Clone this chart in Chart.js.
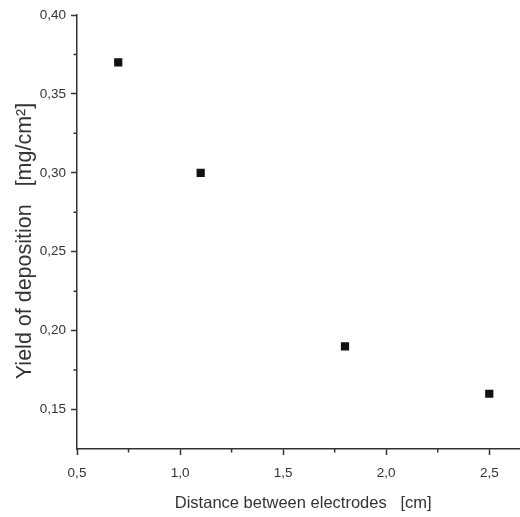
<!DOCTYPE html>
<html>
<head>
<meta charset="utf-8">
<script src="https://cdn.jsdelivr.net/npm/chart.js@4"></script>
<style>
  body { margin: 0; background: #fff; overflow: hidden; }
  /* a bit wider than the window so the x axis runs to the right edge */
  #wrap { width: 526px; height: 517px; }
</style>
</head>
<body>
<div id="wrap"><canvas id="myChart"></canvas></div>
<script>
const distances = [0.7, 1.1, 1.8, 2.5];
const yields = [0.37, 0.30, 0.19, 0.16];
const xTicks = [0.5, 1.0, 1.5, 2.0, 2.5];
const yTicks = [0.15, 0.20, 0.25, 0.30, 0.35, 0.40];
const xMinor = [0.75, 1.25, 1.75, 2.25];
const yMinor = [0.175, 0.225, 0.275, 0.325, 0.375];

const axisColor = "#333";
const font = "'Liberation Sans', Arial, sans-serif";

// origin draws minor ticks shorter than major ones
const minorTicks = {
  id: "minorTicks",
  afterDraw(chart) {
    const ctx = chart.ctx;
    const x = chart.scales.x;
    const y = chart.scales.y;
    ctx.save();
    ctx.strokeStyle = axisColor;
    ctx.lineWidth = 1.5;
    ctx.beginPath();
    xMinor.forEach((v) => {
      const px = x.getPixelForValue(v);
      ctx.moveTo(px, x.top);
      ctx.lineTo(px, x.top + 3.5);
    });
    yMinor.forEach((v) => {
      const py = y.getPixelForValue(v);
      ctx.moveTo(y.right, py);
      ctx.lineTo(y.right - 3.5, py);
    });
    ctx.stroke();
    ctx.restore();
  },
};

const data = {
  datasets: [
    {
      data: distances.map((d, i) => ({ x: d, y: yields[i] })),
      pointStyle: "rect",
      pointRadius: 5.8,
      pointBackgroundColor: "#111",
      pointBorderWidth: 0,
      showLine: false,
    },
  ],
};

const config = {
  type: "scatter",
  data,
  options: {
    responsive: true,
    maintainAspectRatio: false,
    animation: false,
    layout: { padding: { top: 15, left: 0, right: 0, bottom: 0 } },
    plugins: { legend: { display: false }, tooltip: { enabled: false } },
    scales: {
      x: {
        type: "linear",
        min: 0.5,
        max: 2.65,
        afterBuildTicks: (scale) => {
          scale.ticks = xTicks.map((v) => ({ value: v }));
        },
        afterFit: (scale) => {
          scale.height = 68;
        },
        border: { color: axisColor, width: 1.5 },
        grid: { drawOnChartArea: false, tickLength: 6, tickColor: axisColor, tickWidth: 1.5 },
        ticks: {
          color: axisColor,
          font: { family: font, size: 13.5 },
          padding: 10,
          maxRotation: 0,
          callback: (v) => v.toFixed(1).replace(".", ","),
        },
        title: {
          display: true,
          text: "  Distance between electrodes   [cm]",
          color: axisColor,
          font: { family: font, size: 16.5 },
          padding: { top: 10 },
        },
      },
      y: {
        type: "linear",
        min: 0.125,
        max: 0.4,
        afterBuildTicks: (scale) => {
          scale.ticks = yTicks.map((v) => ({ value: v }));
        },
        afterFit: (scale) => {
          scale.width = 77;
        },
        border: { color: axisColor, width: 1.5 },
        grid: { drawOnChartArea: false, tickLength: 6, tickColor: axisColor, tickWidth: 1.5 },
        ticks: {
          color: axisColor,
          font: { family: font, size: 13.5 },
          padding: 5,
          callback: (v) => v.toFixed(2).replace(".", ","),
        },
        title: {
          display: true,
          text: "Yield of deposition   [mg/cm²]   ",
          color: axisColor,
          font: { family: font, size: 21.5 },
          padding: { top: 12, bottom: 0 },
        },
      },
    },
  },
  plugins: [minorTicks],
};

const myChart = new Chart(document.querySelector("#myChart"), config);
</script>
</body>
</html>
